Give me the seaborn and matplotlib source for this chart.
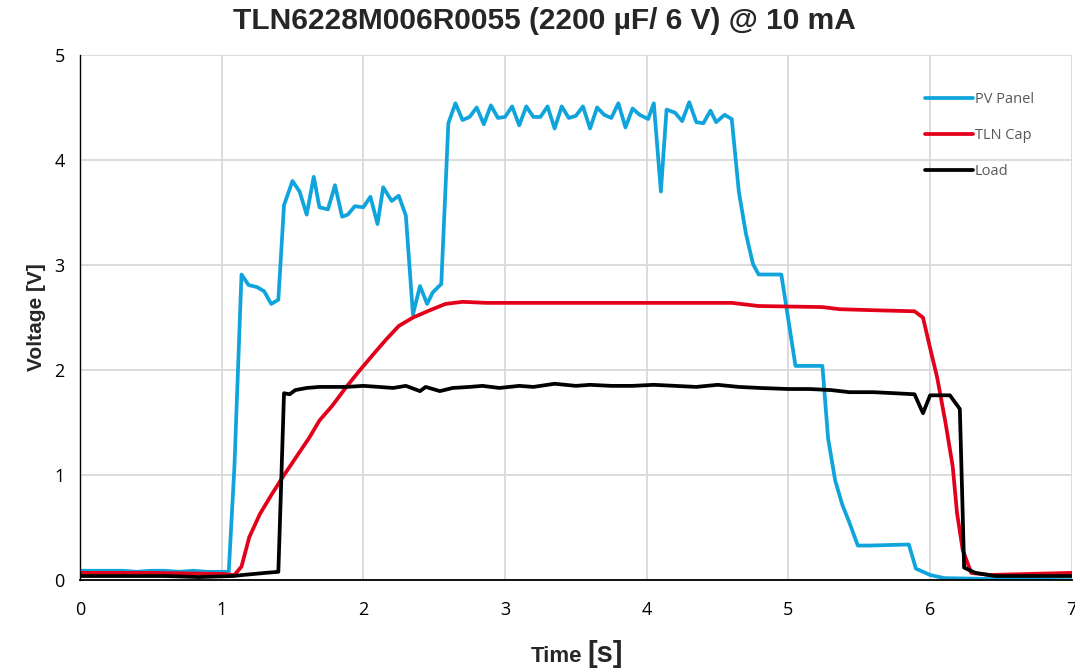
import pandas as pd
import matplotlib
matplotlib.use("Agg")
import matplotlib.pyplot as plt
import seaborn as sns

# PV Panel
pv_time = [0.00, 0.10, 0.20, 0.30, 0.40, 0.50, 0.60, 0.70, 0.80, 0.90, 1.00, 1.05, 1.09, 1.14,
           1.19, 1.25, 1.30, 1.35, 1.40, 1.44, 1.50, 1.55, 1.60, 1.65, 1.69, 1.75, 1.80, 1.85,
           1.89, 1.94, 2.00, 2.05, 2.10, 2.14, 2.20, 2.25, 2.30, 2.35, 2.40, 2.45, 2.49, 2.55,
           2.60, 2.65, 2.70, 2.75, 2.80, 2.85, 2.90, 2.95, 3.00, 3.05, 3.10, 3.15, 3.20, 3.25,
           3.30, 3.35, 3.40, 3.45, 3.50, 3.55, 3.60, 3.65, 3.70, 3.75, 3.80, 3.85, 3.90, 3.95,
           4.01, 4.05, 4.10, 4.14, 4.20, 4.25, 4.30, 4.35, 4.40, 4.45, 4.49, 4.55, 4.60, 4.65,
           4.70, 4.75, 4.79, 4.95, 5.05, 5.24, 5.28, 5.33, 5.38, 5.43, 5.49, 5.57, 5.85, 5.90,
           6.00, 6.10, 6.49, 7.00]
pv_volt = [0.09, 0.09, 0.09, 0.09, 0.08, 0.09, 0.09, 0.08, 0.09, 0.08, 0.08, 0.08, 1.08, 2.91,
           2.81, 2.79, 2.75, 2.63, 2.67, 3.57, 3.80, 3.70, 3.48, 3.84, 3.55, 3.53, 3.76, 3.46,
           3.48, 3.56, 3.55, 3.65, 3.39, 3.74, 3.61, 3.66, 3.47, 2.53, 2.80, 2.63, 2.74, 2.82,
           4.35, 4.54, 4.38, 4.41, 4.50, 4.34, 4.52, 4.40, 4.41, 4.51, 4.33, 4.51, 4.41, 4.41,
           4.51, 4.30, 4.51, 4.40, 4.42, 4.51, 4.30, 4.50, 4.43, 4.40, 4.54, 4.31, 4.49, 4.43,
           4.39, 4.54, 3.70, 4.48, 4.45, 4.37, 4.55, 4.36, 4.35, 4.47, 4.36, 4.43, 4.39, 3.70,
           3.30, 3.01, 2.91, 2.91, 2.04, 2.04, 1.35, 0.95, 0.72, 0.55, 0.33, 0.33, 0.34, 0.11,
           0.05, 0.02, 0.01, 0.00]

# TLN Cap
cap_time = [0.00, 0.50, 1.00, 1.09, 1.14, 1.195, 1.27, 1.35, 1.43, 1.525, 1.62, 1.69, 1.78,
            1.88, 1.97, 2.07, 2.16, 2.25, 2.35, 2.47, 2.58, 2.70, 2.87, 3.00, 3.50, 3.80, 4.20,
            4.60, 4.79, 5.24, 5.36, 5.60, 5.89, 5.95, 6.00, 6.05, 6.11, 6.16, 6.19, 6.23, 6.29,
            6.42, 7.00]
cap_volt = [0.07, 0.07, 0.06, 0.05, 0.13, 0.41, 0.63, 0.81, 0.98, 1.17, 1.36, 1.52, 1.66,
            1.84, 1.99, 2.15, 2.29, 2.42, 2.50, 2.57, 2.63, 2.65, 2.64, 2.64, 2.64, 2.64, 2.64,
            2.64, 2.61, 2.60, 2.58, 2.57, 2.56, 2.50, 2.21, 1.93, 1.49, 1.08, 0.64, 0.29, 0.07,
            0.05, 0.07]

# Load
load_time = [0.00, 0.30, 0.60, 0.84, 1.08, 1.15, 1.31, 1.40, 1.42, 1.44, 1.48, 1.52, 1.60,
             1.69, 1.78, 1.88, 2.00, 2.11, 2.21, 2.30, 2.40, 2.44, 2.54, 2.63, 2.75, 2.84,
             2.96, 3.10, 3.20, 3.35, 3.50, 3.60, 3.75, 3.90, 4.05, 4.20, 4.35, 4.50, 4.65,
             4.80, 5.00, 5.15, 5.30, 5.43, 5.60, 5.75, 5.89, 5.95, 6.00, 6.14, 6.21, 6.23,
             6.24, 6.32, 6.46, 7.00]
load_volt = [0.04, 0.04, 0.04, 0.03, 0.04, 0.05, 0.07, 0.08, 0.92, 1.78, 1.77, 1.81, 1.83,
             1.84, 1.84, 1.84, 1.85, 1.84, 1.83, 1.85, 1.80, 1.84, 1.80, 1.83, 1.84, 1.85,
             1.83, 1.85, 1.84, 1.87, 1.85, 1.86, 1.85, 1.85, 1.86, 1.85, 1.84, 1.86, 1.84,
             1.83, 1.82, 1.82, 1.81, 1.79, 1.79, 1.78, 1.77, 1.59, 1.76, 1.76, 1.63, 0.64,
             0.12, 0.07, 0.04, 0.04]

sns.set_style("white")
plt.rcParams['font.family'] = ['Open Sans', 'DejaVu Sans']
bold_fam = ['Liberation Sans Narrow', 'Liberation Sans', 'DejaVu Sans']

fig = plt.figure(figsize=(10.75, 6.7), dpi=100)
ax = fig.add_axes([0.0744, 0.134, 0.9226, 0.784])

sns.lineplot(x=pv_time, y=pv_volt, ax=ax, color='#0FA5DC', linewidth=2.7,
             label='PV Panel', estimator=None, sort=False)
sns.lineplot(x=cap_time, y=cap_volt, ax=ax, color='#E2001A', linewidth=2.7,
             label='TLN Cap', estimator=None, sort=False)
sns.lineplot(x=load_time, y=load_volt, ax=ax, color='black', linewidth=2.7,
             label='Load', estimator=None, sort=False)

ax.set_xlim(0, 7)
ax.set_ylim(0, 5)
ax.set_xticks(range(0, 8))
ax.set_yticks(range(0, 6))
ax.grid(True, color='#d9d9d9', linewidth=1.3)
ax.set_axisbelow(True)
for s in ['top', 'right']:
    ax.spines[s].set_visible(False)
ax.spines['left'].set_color('black')
ax.spines['bottom'].set_color('black')
ax.spines['bottom'].set_linewidth(1.3)
ax.spines['left'].set_linewidth(1.0)
ax.tick_params(axis='both', direction='inout', length=10, width=1.2, labelsize=13,
               colors='black', pad=6)
ax.tick_params(axis='x', pad=10)

ax.set_xlabel('')
ax.set_ylabel('Voltage [V]', fontsize=15, fontweight='bold', family=bold_fam, labelpad=6)

fig.text(0.542, 0.012, 'Time', ha='right', va='baseline', fontsize=16, fontweight='bold',
         family=bold_fam)
fig.text(0.546, 0.012, '[s]', ha='left', va='baseline', fontsize=21, fontweight='bold',
         family=bold_fam)

fig.suptitle('TLN6228M006R0055 (2200 µF/ 6 V) @ 10 mA', x=0.506, y=0.99, fontsize=21.5,
             fontweight='bold', family=bold_fam)

leg = ax.legend(loc='upper right', bbox_to_anchor=(0.975, 0.955), frameon=False,
                fontsize=10.5, handlelength=3.3, labelspacing=1.45, handletextpad=0.1)
for t in leg.get_texts():
    t.set_color('#595959')

fig.savefig('out.png', dpi=100)
